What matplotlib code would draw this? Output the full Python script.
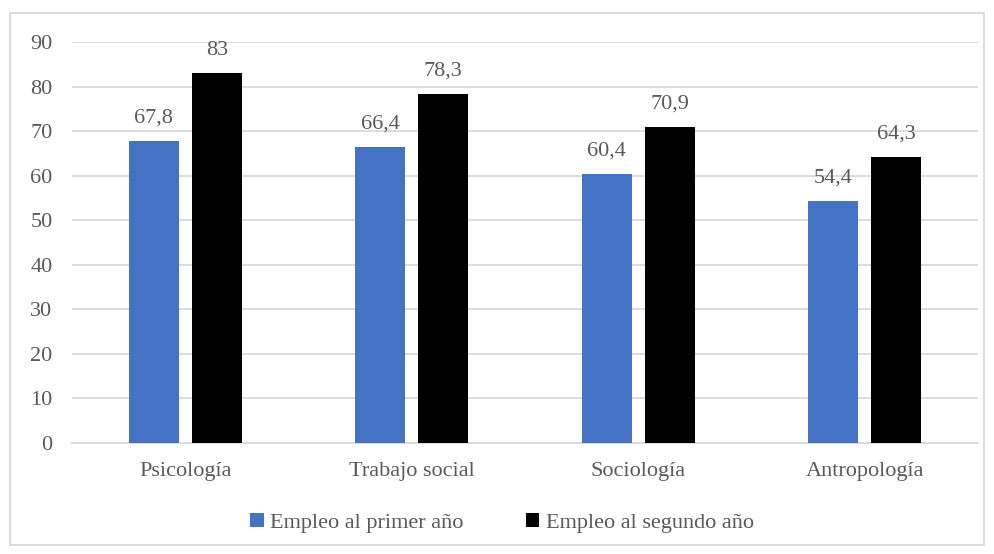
import numpy as np
import matplotlib.pyplot as plt
from matplotlib.patches import Rectangle
from matplotlib.font_manager import FontProperties

# Empleo de titulados por carrera
carreras = ['Psicología', 'Trabajo social', 'Sociología', 'Antropología']
primer_ano = [67.8, 66.4, 60.4, 54.4]
segundo_ano = [83, 78.3, 70.9, 64.3]
etiquetas_1 = ['67,8', '66,4', '60,4', '54,4']
etiquetas_2 = ['83', '78,3', '70,9', '64,3']

plt.rcParams['font.family'] = ['Liberation Serif', 'DejaVu Serif']
gris = '#595959'
linea = '#d9d9d9'
fs = 16

fig = plt.figure(figsize=(9.94, 5.54), dpi=100)
ax = fig.add_axes([0.0724, 0.2004, 0.9116, 0.7236])

x = np.arange(len(carreras))
w = 0.22
off = 0.139
b1 = ax.bar(x - off, primer_ano, w, color='#4472c4', label='Empleo al primer año', zorder=3)
b2 = ax.bar(x + off, segundo_ano, w, color='#000000', label='Empleo al segundo año', zorder=3)

for rect, txt in zip(b1, etiquetas_1):
    ax.text(rect.get_x() + rect.get_width() / 2, rect.get_height() + 3.0, txt,
            ha='center', va='bottom', fontsize=fs, color=gris)
for rect, txt in zip(b2, etiquetas_2):
    ax.text(rect.get_x() + rect.get_width() / 2, rect.get_height() + 3.0, txt,
            ha='center', va='bottom', fontsize=fs, color=gris)

ax.set_xlim(-0.5, 3.5)
ax.set_ylim(0, 90)
ax.set_yticks(range(0, 91, 10))
ax.set_xticks(x)
ax.set_xticklabels(carreras)
ax.yaxis.grid(True, color=linea, lw=1.3, zorder=0)
for s in ['top', 'right', 'left']:
    ax.spines[s].set_visible(False)
ax.spines['bottom'].set_color(linea)
ax.spines['bottom'].set_linewidth(1.3)
ax.tick_params(axis='both', length=0, labelsize=fs, labelcolor=gris)
ax.tick_params(axis='x', pad=14)
ax.tick_params(axis='y', pad=14)

prop = FontProperties(family=['Liberation Serif', 'DejaVu Serif'], size=fs)
leg = fig.legend(loc='center', bbox_to_anchor=(0.505, 0.056), ncol=2, frameon=False,
                 prop=prop, handlelength=0.6, handleheight=0.6, handletextpad=0.3,
                 columnspacing=2.8)
for t in leg.get_texts():
    t.set_color(gris)

fig.patches.append(Rectangle((10 / 994, 9 / 554), 974 / 994, 532 / 554, transform=fig.transFigure,
                             fill=False, edgecolor=linea, lw=1.3))

plt.savefig('out.png', dpi=100)
